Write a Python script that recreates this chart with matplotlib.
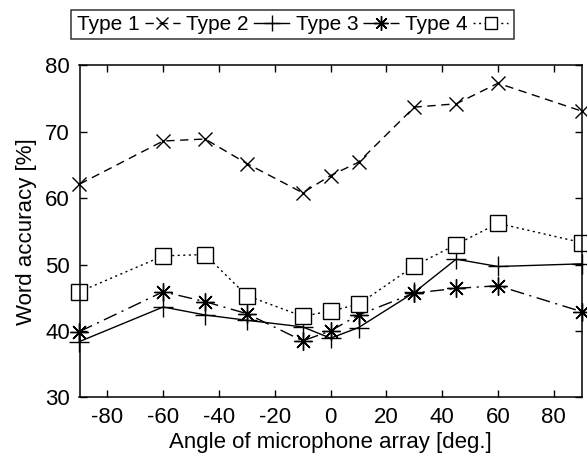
import matplotlib.pyplot as plt

plt.rcParams['font.family'] = ['Liberation Sans', 'DejaVu Sans']
plt.rcParams['axes.unicode_minus'] = False

angles = [-90, -60, -45, -30, -10, 0, 10, 30, 45, 60, 90]
type1 = [62.1, 68.6, 68.9, 65.2, 60.8, 63.4, 65.4, 73.7, 74.2, 77.3, 73.1]
type2 = [38.4, 43.6, 42.4, 41.6, 40.6, 38.9, 40.5, 45.8, 50.8, 49.7, 50.1]
type3 = [39.9, 45.9, 44.4, 42.6, 38.5, 40.0, 42.4, 45.7, 46.4, 46.8, 42.9]
type4 = [45.9, 51.3, 51.5, 45.3, 42.2, 43.0, 44.0, 49.8, 53.0, 56.2, 53.3]
labels = ['Type 1', 'Type 2', 'Type 3', 'Type 4']

fig = plt.figure(figsize=(5.87, 4.59), dpi=100)
ax = fig.add_axes([79.5 / 587, 1 - 397.3 / 459, (581.7 - 79.5) / 587, (397.3 - 65.3) / 459])

kw = dict(color='black', lw=1.0, clip_on=False, mfc='white', mec='black', mew=1.0)
ax.plot(angles, type1, ls=(0, (6, 4)), marker='x', ms=10, label=labels[0], **kw)
ax.plot(angles, type2, ls='-', marker='+', ms=14, label=labels[1], **kw)
ax.plot(angles, type3, ls=(0, (10, 4, 1.5, 4)), marker=(8, 2, 0), ms=13, label=labels[2], **kw)
ax.plot(angles, type4, ls=(0, (1.5, 2.5)), marker='s', ms=11, label=labels[3], **kw)

ax.set_xlim(-90, 90)
ax.set_ylim(30, 80)
ax.set_xticks(range(-80, 81, 20))
ax.set_yticks(range(30, 81, 10))
ax.tick_params(direction='in', top=True, right=True, length=5, width=1, labelsize=16, pad=7)
for s in ax.spines.values():
    s.set_linewidth(1.1)
ax.set_xlabel('Angle of microphone array [deg.]', fontsize=16, labelpad=3)
ax.set_ylabel('Word accuracy [%]', fontsize=16, labelpad=6)

leg = ax.legend(ncol=4, markerfirst=False, loc='center', bbox_to_anchor=(292.5 / 587, 1 - 24.5 / 459),
                bbox_transform=fig.transFigure, fontsize=15, frameon=True, fancybox=False,
                edgecolor='black', handlelength=1.7, handletextpad=0.25, columnspacing=0.3, borderaxespad=0,
                borderpad=0.25, markerscale=0.8)
leg.get_frame().set_linewidth(1.1)

fig.savefig('out.png', dpi=100)
